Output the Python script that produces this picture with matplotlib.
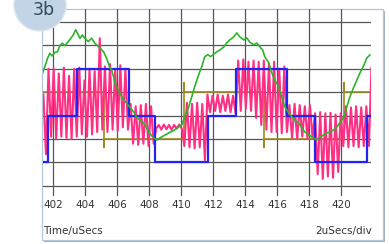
import numpy as np
import matplotlib
matplotlib.use("Agg")
import matplotlib.pyplot as plt
from matplotlib.patches import Rectangle, Ellipse

# scope trace, x in uSecs, y in divisions (grid lines at 0..7)
t_start = 401.375
t_end = 421.85

green_t = [401.34, 401.49, 401.66, 401.80, 401.95, 402.11, 402.28, 402.43, 402.58, 402.74,
           402.91, 403.11, 403.26, 403.41, 403.53, 403.68, 403.83, 403.99, 404.20, 404.41,
           404.61, 404.72, 404.91, 405.16, 405.34, 405.53, 405.66, 405.78, 405.84, 405.97,
           406.16, 406.41, 406.59, 406.78, 407.03, 407.22, 407.41, 407.66, 407.84, 408.03,
           408.22, 408.47, 408.78, 409.22, 409.59, 410.03, 410.22, 410.47, 410.66, 410.84,
           411.09, 411.28, 411.47, 411.66, 411.84, 412.03, 412.22, 412.41, 412.66, 412.84,
           413.03, 413.28, 413.47, 413.66, 413.91, 414.09, 414.28, 414.53, 414.72, 414.91,
           415.09, 415.22, 415.47, 415.66, 415.84, 416.09, 416.28, 416.47, 416.72, 416.91,
           417.09, 417.34, 417.53, 417.72, 417.97, 418.16, 418.47, 418.66, 418.91, 419.09,
           419.28, 419.53, 419.72, 419.91, 420.16, 420.34, 420.53, 420.78, 420.97, 421.16,
           421.41, 421.59, 421.78]
green_y = [4.81, 5.09, 5.45, 5.66, 5.55, 5.69, 5.73, 5.98, 6.09, 5.99,
           6.12, 6.30, 6.44, 6.66, 6.52, 6.30, 6.44, 6.30, 6.16, 6.30,
           6.09, 6.02, 5.89, 5.72, 5.46, 5.08, 4.95, 4.65, 4.44, 4.23,
           3.97, 3.67, 3.54, 3.37, 3.16, 2.94, 2.82, 2.69, 2.48, 2.26,
           2.09, 1.96, 2.09, 2.26, 2.39, 2.60, 2.94, 3.37, 3.80, 4.23,
           4.74, 5.08, 5.51, 5.60, 5.52, 5.62, 5.72, 5.80, 5.93, 6.10,
           6.23, 6.36, 6.53, 6.36, 6.23, 6.32, 6.14, 6.02, 6.10, 5.93,
           5.80, 5.51, 5.25, 4.82, 4.52, 4.23, 3.80, 3.37, 3.12, 2.94,
           2.82, 2.69, 2.48, 2.30, 2.18, 2.09, 1.96, 2.09, 2.18, 2.26,
           2.30, 2.39, 2.52, 2.69, 2.94, 3.37, 3.80, 4.23, 4.52, 4.82,
           5.16, 5.46, 5.59]

blue_edges = [401.66, 403.47, 406.72, 408.36, 411.66, 413.43, 416.62, 418.36, 421.6]
blue_levels = [1.0, 3.0, 5.0, 3.0, 1.0, 3.0, 5.0, 3.0, 1.0, 3.0]

olive_edges = [405.18, 410.2, 415.2, 420.14]
olive_levels = [4.0, 2.0, 4.0, 2.0, 4.0]
olive_spikes = [1.68, 4.38, 1.68, 4.38]

# pink sampled every 0.16 uSecs from 401.4
pink_t0 = 401.4
pink_dt = 0.16
pink_y = [3.9, 1.35, 5.0, 2.1, 5.0, 2.0, 4.8, 2.1, 5.05, 2.05,
          4.7, 2.0, 5.0, 2.1, 5.05, 2.2, 4.5, 2.1, 5.0, 2.2,
          4.9, 2.3, 6.3, 2.4, 5.1, 2.3, 5.2, 2.4, 5.0, 2.35,
          5.15, 2.5, 5.0, 2.4, 3.5, 1.8, 3.4, 1.75, 3.45, 1.8,
          3.5, 1.7, 3.4, 1.8, 2.45, 2.6, 2.4, 2.62, 2.42, 2.6,
          2.4, 2.6, 2.45, 2.62, 2.45, 1.7, 3.55, 1.65, 3.5, 1.6,
          3.55, 1.65, 3.5, 1.1, 3.9, 3.15, 3.85, 3.2, 3.9, 3.15,
          3.85, 3.2, 3.9, 3.15, 3.85, 3.1, 5.35, 3.2, 5.4, 3.3,
          5.3, 3.2, 5.35, 2.9, 5.3, 2.6, 5.35, 2.4, 5.2, 2.3,
          5.3, 2.3, 5.0, 2.25, 5.1, 2.3, 3.45, 2.05, 3.5, 2.0,
          3.45, 2.1, 3.4, 2.0, 3.45, 2.05, 3.1, 0.5, 3.15, 0.3,
          3.1, 0.4, 3.12, 0.35, 3.05, 0.6, 3.1, 1.7, 3.4, 1.65,
          3.35, 1.7, 3.4, 1.65, 3.35, 1.7, 3.4, 1.7, 5.05]

xticks = [402, 404, 406, 408, 410, 412, 414, 416, 418, 420]

W, H = 389, 244
fig = plt.figure(figsize=(W / 100, H / 100), dpi=100)

# panel frame with shadow
fig.patches.append(Rectangle(((42 + 2) / W, 1 - (240 + 2) / H), 341 / W, 231 / H,
                             transform=fig.transFigure, facecolor="#9fb0c2",
                             edgecolor="none", zorder=-2))
fig.patches.append(Rectangle((42 / W, 1 - 240 / H), 341 / W, 231 / H,
                             transform=fig.transFigure, facecolor="white",
                             edgecolor="#b4c6d8", lw=0.9, zorder=-1))

ax = fig.add_axes([43 / W, 1 - 196 / H, (371 - 43) / W, (196 - 9) / H])
ax.set_facecolor("none")
ax.set_xlim(t_start, t_end)
ax.set_ylim(-0.43, 7.55)
ax.set_xticks(xticks)
ax.set_xticklabels([str(v) for v in xticks])
ax.set_yticks(range(8))
ax.set_yticklabels([])
ax.tick_params(length=0, pad=3, labelsize=7.5, labelcolor="#333333")
for s in ax.spines.values():
    s.set_visible(False)
ax.grid(True, color="#555555", lw=0.9)
ax.set_axisbelow(True)

# olive square wave with overshoot
ox, oy = [t_start], [olive_levels[0]]
for k, e in enumerate(olive_edges):
    ox += [e, e, e]
    oy += [olive_levels[k], olive_spikes[k], olive_levels[k + 1]]
ox.append(t_end)
oy.append(olive_levels[-1])
ax.plot(ox, oy, color="#9e8b1c", lw=1.2, zorder=2)

pink_t = pink_t0 + pink_dt * np.arange(len(pink_y))
ax.plot(pink_t, pink_y, color="#ff2f83", lw=1.5, zorder=3)

bx = [t_start] + blue_edges + [t_end]
by = blue_levels + [blue_levels[-1]]
ax.step(bx, by, where="post", color="#2424f0", lw=1.6, zorder=4)

ax.plot(green_t, green_y, color="#2bb52b", lw=1.2, zorder=5)

fig.text(43 / W, 1 - 231 / H, "Time/uSecs", ha="left", va="center",
         fontsize=7.5, color="#333333")
fig.text(372 / W, 1 - 231 / H, "2uSecs/div", ha="right", va="center",
         fontsize=7.5, color="#333333")

# badge
fig.patches.append(Ellipse((40 / W, 1 - 5 / H), 52 / W, 52 / H,
                           transform=fig.transFigure, facecolor="#c3d4e6",
                           edgecolor="#dbe6f1", lw=1.0, zorder=10))
fig.text(44 / W, 1 - 10 / H, "3b", ha="center", va="center", fontsize=12.5,
         color="#2d4b61", zorder=11)

fig.savefig("out.png", dpi=100)
